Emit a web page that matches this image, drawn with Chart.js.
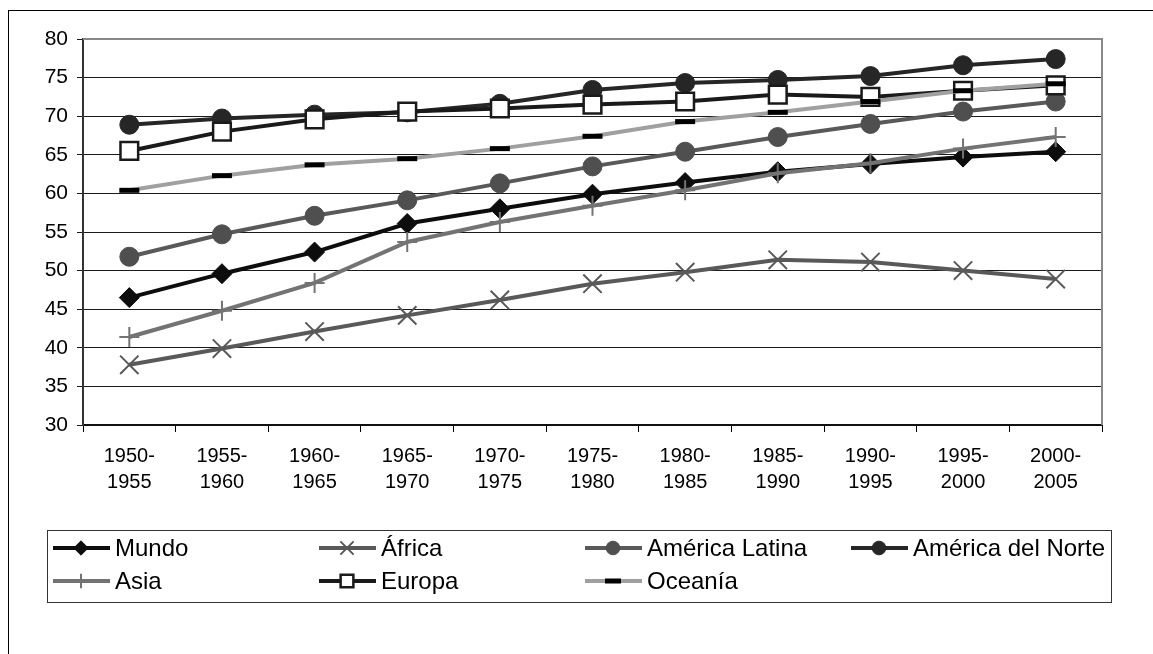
<!DOCTYPE html>
<html>
<head>
<meta charset="utf-8">
<script src="https://cdn.jsdelivr.net/npm/chart.js@4.4.1/dist/chart.umd.min.js"></script>
<style>
    html, body { margin: 0; padding: 0; background: #fff; }
    #wrap { position: relative; width: 1153px; height: 654px; overflow: hidden; }
    #frame { position: absolute; left: 8px; top: 10px; width: 1200px; height: 700px; border-top: 1px solid #000; border-left: 1px solid #000; }
    canvas { position: absolute; left: 0; top: 0; }
</style>
</head>
<body>
<div id="wrap">
    <div id="frame"></div>
    <canvas id="chart" width="1153" height="654"></canvas>
</div>
<script>
const PERIODS = [
    ["1950-", "1955"], ["1955-", "1960"], ["1960-", "1965"], ["1965-", "1970"],
    ["1970-", "1975"], ["1975-", "1980"], ["1980-", "1985"], ["1985-", "1990"],
    ["1990-", "1995"], ["1995-", "2000"], ["2000-", "2005"]
];

const MUNDO = [46.5, 49.6, 52.4, 56.1, 58.0, 59.9, 61.4, 62.8, 63.8, 64.7, 65.4];
const AFRICA = [37.8, 39.9, 42.1, 44.2, 46.2, 48.3, 49.8, 51.4, 51.1, 50.0, 48.9];
const AMERICA_LATINA = [51.8, 54.7, 57.1, 59.1, 61.3, 63.5, 65.4, 67.3, 69.0, 70.6, 71.9];
const AMERICA_NORTE = [68.9, 69.7, 70.2, 70.5, 71.6, 73.4, 74.3, 74.7, 75.2, 76.6, 77.4];
const ASIA = [41.4, 44.8, 48.4, 53.7, 56.3, 58.4, 60.4, 62.6, 63.9, 65.8, 67.3];
const EUROPA = [65.5, 68.0, 69.6, 70.6, 71.0, 71.5, 71.9, 72.8, 72.5, 73.3, 74.0];
const OCEANIA = [60.4, 62.3, 63.7, 64.5, 65.8, 67.4, 69.3, 70.5, 71.9, 73.3, 74.2];

const Y_MIN = 30, Y_MAX = 80, Y_STEP = 5;
const FONT = "'Liberation Sans', Arial, sans-serif";

function series(label, data, line, style, radius, fill, border, bw) {
    return {
        label, data,
        borderColor: line, borderWidth: 4, tension: 0,
        pointStyle: style, pointRadius: radius, pointHoverRadius: radius,
        pointBackgroundColor: fill, pointBorderColor: border, pointBorderWidth: bw
    };
}

const datasets = [
    series("Mundo", MUNDO, "#0d0d0d", "rectRot", 10, "#0d0d0d", "#0d0d0d", 1),
    series("África", AFRICA, "#595959", "crossRot", 13, "#595959", "#595959", 2),
    series("América Latina", AMERICA_LATINA, "#595959", "circle", 9.5, "#4f4f4f", "#4f4f4f", 1),
    series("América del Norte", AMERICA_NORTE, "#262626", "circle", 9.5, "#262626", "#262626", 1),
    series("Asia", ASIA, "#737373", "cross", 10, "#737373", "#737373", 2),
    series("Europa", EUROPA, "#1a1a1a", "rect", 12.5, "#ffffff", "#1a1a1a", 2.5),
    series("Oceanía", OCEANIA, "#a0a0a0", "line", 10, "#000000", "#000000", 5)
];
// Excel draws later series over earlier ones
datasets.forEach((d, i) => { d.order = datasets.length - 1 - i; });

const plotFrame = {
    id: "plotFrame",
    beforeDatasetsDraw(chart) {
        const { ctx, chartArea: a } = chart;
        ctx.save();
        ctx.strokeStyle = "#888";
        ctx.lineWidth = 2;
        ctx.beginPath();
        ctx.moveTo(a.left, a.top);
        ctx.lineTo(a.right, a.top);
        ctx.lineTo(a.right, a.bottom);
        ctx.stroke();
        ctx.restore();
    }
};

const boxLegend = {
    id: "boxLegend",
    afterDraw(chart) {
        const ctx = chart.ctx;
        ctx.save();
        ctx.strokeStyle = "#333";
        ctx.lineWidth = 1;
        ctx.strokeRect(47.5, 530.5, 1064, 72);
        ctx.font = "24px " + FONT;
        ctx.textBaseline = "middle";
        chart.data.datasets.forEach((ds, i) => {
            const x0 = 53 + (i % 4) * 266;
            const y = 548 + Math.floor(i / 4) * 33;
            ctx.strokeStyle = ds.borderColor;
            ctx.lineWidth = ds.borderWidth;
            ctx.beginPath();
            ctx.moveTo(x0, y);
            ctx.lineTo(x0 + 57, y);
            ctx.stroke();
            ctx.fillStyle = ds.pointBackgroundColor;
            ctx.strokeStyle = ds.pointBorderColor;
            ctx.lineWidth = ds.pointBorderWidth;
            Chart.helpers.drawPoint(ctx, {
                pointStyle: ds.pointStyle,
                radius: ds.pointStyle === "line" ? 8 : ds.pointRadius * 0.72,
                rotation: 0,
                borderWidth: ds.pointBorderWidth
            }, x0 + 28, y);
            ctx.fillStyle = "#000";
            ctx.fillText(ds.label, x0 + 62, y + 1);
        });
        ctx.restore();
    }
};

new Chart(document.getElementById("chart"), {
    type: "line",
    data: { labels: PERIODS, datasets },
    options: {
        responsive: false,
        animation: false,
        events: [],
        layout: { padding: { left: 0, top: 39, right: 51, bottom: 149 } },
        plugins: { legend: { display: false }, tooltip: { enabled: false } },
        scales: {
            x: {
                offset: true,
                grid: { display: true, drawOnChartArea: false, drawTicks: true, tickLength: 7, offset: true, color: "#000", lineWidth: 1 },
                border: { display: true, color: "#111", width: 2 },
                ticks: { color: "#000", padding: 11, maxRotation: 0, autoSkip: false,
                         font: { family: FONT, size: 20, lineHeight: 1.3 } },
                afterFit(s) { s.height = 80; }
            },
            y: {
                min: Y_MIN, max: Y_MAX,
                grid: { color: "#1a1a1a", lineWidth: 1, drawTicks: true, tickLength: 6 },
                border: { display: true, color: "#333", width: 2 },
                ticks: { stepSize: Y_STEP, color: "#000", padding: 9,
                         font: { family: FONT, size: 21 } },
                afterFit(s) { s.width = 83; }
            }
        }
    },
    plugins: [plotFrame, boxLegend]
});
</script>
</body>
</html>
